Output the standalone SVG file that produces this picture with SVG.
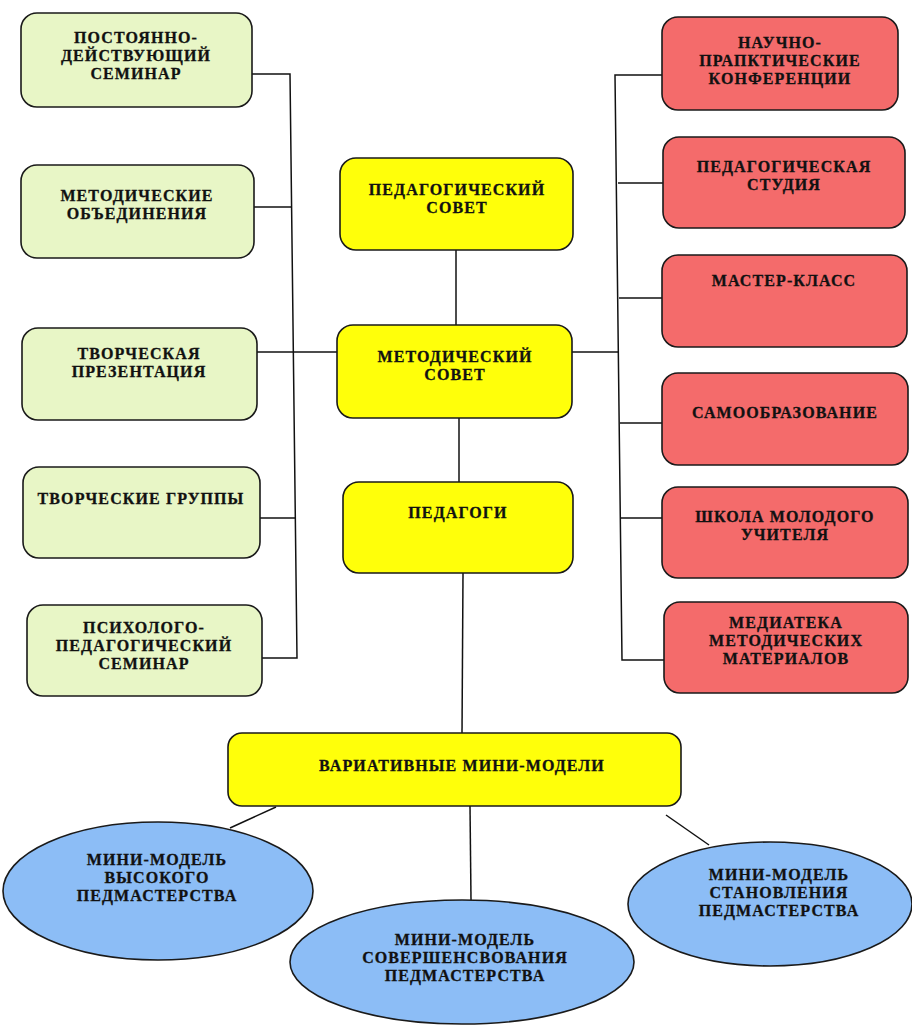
<svg xmlns="http://www.w3.org/2000/svg" width="912" height="1030" viewBox="0 0 912 1030">
<style>
.g{fill:#E8F6C6;stroke:#1a1a1a;stroke-width:1.6}
.r{fill:#F46B6B;stroke:#1a1a1a;stroke-width:1.6}
.y{fill:#FFFF0A;stroke:#1a1a1a;stroke-width:1.6}
.b{fill:#8CBDF6;stroke:#1a1a1a;stroke-width:1.6}
text{font-family:"Liberation Serif","Times New Roman",serif;font-weight:bold;font-size:16px;letter-spacing:1.1px;fill:#111;text-anchor:middle;stroke:#111;stroke-width:0.3}
.c line,.c polyline{stroke:#111;stroke-width:1.5;fill:none}
</style>
<rect width="912" height="1030" fill="#fff"/>
<g class="c" id="connectors">
<polyline points="251,74 290,74 297,658 262,658"/>
<line x1="254" y1="207" x2="292" y2="207"/>
<line x1="257" y1="352" x2="337" y2="352"/>
<line x1="260" y1="518" x2="296" y2="518"/>
<polyline points="662,75 615,75 622,660 664,660"/>
<line x1="618" y1="183" x2="663" y2="183"/>
<line x1="619" y1="298" x2="662" y2="298"/>
<line x1="572" y1="352" x2="619" y2="352"/>
<line x1="620" y1="423" x2="662" y2="423"/>
<line x1="621" y1="518" x2="662" y2="518"/>
<line x1="456" y1="250" x2="456" y2="325"/>
<line x1="459" y1="418" x2="459" y2="482"/>
<line x1="463" y1="573" x2="462" y2="733"/>
<line x1="276" y1="807" x2="230" y2="828"/>
<line x1="470" y1="806" x2="471" y2="900"/>
<line x1="666" y1="815" x2="709" y2="845"/>
</g>
<g id="n1"><rect class="g" x="21" y="13" width="231" height="94" rx="16"/><text x="136" y="43">ПОСТОЯННО-</text><text x="136" y="61">ДЕЙСТВУЮЩИЙ</text><text x="136" y="79">СЕМИНАР</text></g>
<g id="n2"><rect class="g" x="21" y="165" width="233" height="93" rx="16"/><text x="137" y="201">МЕТОДИЧЕСКИЕ</text><text x="137" y="219">ОБЪЕДИНЕНИЯ</text></g>
<g id="n3"><rect class="g" x="22" y="328" width="235" height="92" rx="16"/><text x="139" y="359">ТВОРЧЕСКАЯ</text><text x="139" y="377">ПРЕЗЕНТАЦИЯ</text></g>
<g id="n4"><rect class="g" x="23" y="467" width="237" height="91" rx="16"/><text x="141" y="504">ТВОРЧЕСКИЕ ГРУППЫ</text></g>
<g id="n5"><rect class="g" x="27" y="605" width="235" height="91" rx="16"/><text x="144" y="633">ПСИХОЛОГО-</text><text x="144" y="651">ПЕДАГОГИЧЕСКИЙ</text><text x="144" y="669">СЕМИНАР</text></g>
<g id="r1"><rect class="r" x="662" y="17" width="236" height="93" rx="16"/><text x="780" y="48">НАУЧНО-</text><text x="780" y="66">ПРАПКТИЧЕСКИЕ</text><text x="780" y="84">КОНФЕРЕНЦИИ</text></g>
<g id="r2"><rect class="r" x="663" y="137" width="242" height="91" rx="16"/><text x="784" y="172">ПЕДАГОГИЧЕСКАЯ</text><text x="784" y="190">СТУДИЯ</text></g>
<g id="r3"><rect class="r" x="662" y="255" width="245" height="92" rx="16"/><text x="784" y="286">МАСТЕР-КЛАСС</text></g>
<g id="r4"><rect class="r" x="662" y="373" width="246" height="92" rx="16"/><text x="785" y="418">САМООБРАЗОВАНИЕ</text></g>
<g id="r5"><rect class="r" x="662" y="487" width="246" height="91" rx="16"/><text x="785" y="522">ШКОЛА МОЛОДОГО</text><text x="785" y="540">УЧИТЕЛЯ</text></g>
<g id="r6"><rect class="r" x="664" y="602" width="244" height="91" rx="16"/><text x="786" y="628">МЕДИАТЕКА</text><text x="786" y="646">МЕТОДИЧЕСКИХ</text><text x="786" y="664">МАТЕРИАЛОВ</text></g>
<g id="c1"><rect class="y" x="340" y="158" width="233" height="92" rx="16"/><text x="457" y="195">ПЕДАГОГИЧЕСКИЙ</text><text x="457" y="213">СОВЕТ</text></g>
<g id="c2"><rect class="y" x="337" y="325" width="235" height="93" rx="16"/><text x="455" y="362">МЕТОДИЧЕСКИЙ</text><text x="455" y="380">СОВЕТ</text></g>
<g id="c3"><rect class="y" x="343" y="482" width="230" height="91" rx="16"/><text x="458" y="518">ПЕДАГОГИ</text></g>
<g id="c4"><rect class="y" x="228" y="733" width="453" height="73" rx="14"/><text x="462" y="771">ВАРИАТИВНЫЕ МИНИ-МОДЕЛИ</text></g>
<g id="e1"><ellipse class="b" cx="158" cy="891" rx="155" ry="69"/><text x="157" y="865">МИНИ-МОДЕЛЬ</text><text x="157" y="883">ВЫСОКОГО</text><text x="157" y="901">ПЕДМАСТЕРСТВА</text></g>
<g id="e2"><ellipse class="b" cx="462" cy="962" rx="172" ry="62"/><text x="465" y="945">МИНИ-МОДЕЛЬ</text><text x="465" y="963">СОВЕРШЕНСВОВАНИЯ</text><text x="465" y="981">ПЕДМАСТЕРСТВА</text></g>
<g id="e3"><ellipse class="b" cx="770" cy="904" rx="142" ry="62"/><text x="779" y="880">МИНИ-МОДЕЛЬ</text><text x="779" y="898">СТАНОВЛЕНИЯ</text><text x="779" y="916">ПЕДМАСТЕРСТВА</text></g>
</svg>
